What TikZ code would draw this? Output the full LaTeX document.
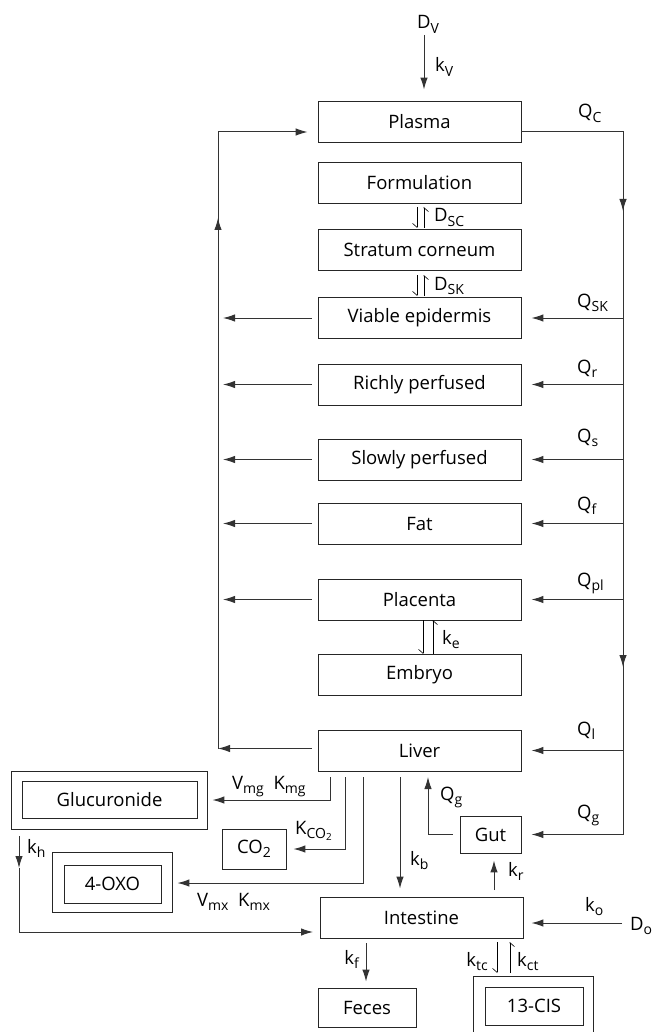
\documentclass[tikz,border=0pt]{standalone}
\usepackage{fontspec}
\setmainfont{Open Sans}
\usetikzlibrary{arrows.meta,calc}
% subscript set a little larger and lower than \textsubscript
\newcommand\lowsub[1]{\raisebox{-4.5pt}{\fontsize{14}{14}\selectfont #1}}
\begin{document}
\begin{tikzpicture}[x=1pt,y=-1pt,
  font=\fontsize{18.5}{22}\selectfont,
  box/.style={draw=black!85,line width=0.8pt,minimum width=203pt,minimum height=41pt,inner sep=0pt},
  line/.style={draw=black!80,line width=1pt},
  flow/.style={line,-{Latex[length=12pt,width=7.5pt]}},
  harp/.style={draw=black,line width=0.6pt,-{Straight Barb[right,length=4pt,width=9pt]}},
  lab/.style={inner sep=0pt},
]
\useasboundingbox (0,0) rectangle (652,1032);

% compartments of the main column
\node[box] (plasma) at (419.5,121.5) {Plasma};
\node[box] (form)   at (419.5,183)   {Formulation};
\node[box] (sc)     at (419.5,250)   {Stratum corneum};
\node[box] (ve)     at (419.5,318)   {Viable epidermis};
\node[box] (rp)     at (419.5,384.5) {Richly perfused};
\node[box] (sp)     at (419.5,459.5) {Slowly perfused};
\node[box] (fat)    at (419.5,523.5) {Fat};
\node[box] (plac)   at (419.5,599.5) {Placenta};
\node[box] (emb)    at (419.5,675)   {Embryo};
\node[box] (liver)  at (419.5,750.5) {Liver};
\node[box] (int)    at (421.5,917.5) {Intestine};
\node[box,minimum width=61pt,minimum height=37pt] (gut)   at (490.5,834.5) {Gut};
\node[box,minimum width=98pt,minimum height=39pt] (feces) at (367,1007.5) {Feces};
\node[box,minimum width=64pt,minimum height=40pt] (co2)   at (254,849)    {CO\lowsub{2}};

% metabolite compartments (double frames)
\node[box,minimum width=196pt,minimum height=58pt] (glucO) at (109,800) {};
\node[box,minimum width=175pt,minimum height=37pt] (gluc)  at (109.5,799.5) {Glucuronide};
\node[box,minimum width=120pt,minimum height=60pt] (oxoO)  at (112,882) {};
\node[box,minimum width=97pt,minimum height=38pt]  (oxo)   at (112.5,884) {4-OXO};
\node[box,minimum width=120pt,minimum height=62pt] (cisO)  at (533,1007) {};
\node[box,minimum width=98pt,minimum height=38pt]  (cis)   at (534,1006) {13-CIS};

% trunks: arterial (right) and venous (left)
\coordinate (rtop) at (623,132);
\coordinate (rbot) at (623,834.5);
\coordinate (ltop) at (218,132);
\coordinate (lbot) at (218,748.5);

\draw[line] ($(plasma.east)+(0,10.5)$) -- (rtop) -- (rbot);
\draw[flow,shorten >=10pt] (rbot) -- (gut.east);
\draw[flow] (623,190) -- (623,211);
\draw[flow] (623,645) -- (623,667);

\foreach \n in {ve,rp,sp,fat,plac,liver}
  \draw[flow,shorten >=10pt] (\n.east -| rtop) -- (\n.east);
\foreach \n in {ve,rp,sp,fat,plac}
  \draw[flow,shorten <=6pt,shorten >=5pt] (\n.west) -- (\n.west -| ltop);
\draw[flow,shorten <=6pt] ($(liver.west)+(0,-2)$) -- (lbot);
\draw[line] (lbot) -- (ltop);
\draw[flow] (218,245) -- (218,218);
\draw[flow,shorten >=10pt] (ltop) -- ($(plasma.west)+(0,10.5)$);

% flow labels
\node[lab,anchor=base west] at (578,118) {Q\lowsub{C}};
\node[lab,anchor=base west] at (577,307) {Q\lowsub{SK}};
\node[lab,anchor=base west] at (577,373) {Q\lowsub{r}};
\node[lab,anchor=base west] at (577,442) {Q\lowsub{s}};
\node[lab,anchor=base west] at (577,510) {Q\lowsub{f}};
\node[lab,anchor=base west] at (577,586) {Q\lowsub{pl}};
\node[lab,anchor=base west] at (577,735) {Q\lowsub{l}};
\node[lab,anchor=base west] at (577,818) {Q\lowsub{g}};

% intravenous dose
\node[lab,anchor=base west] (dv) at (417,29) {D\lowsub{V}};
\draw[flow,shorten >=11pt] (424,35) -- (plasma.north -| 424,0);
\node[lab,anchor=base west] at (435,72) {k\lowsub{V}};

% dermal exchanges
\draw[harp] (417,207) -- (417,228);
\draw[harp] (424,228) -- (424,207);
\node[lab,anchor=base west] at (434,222) {D\lowsub{SC}};
\draw[harp] (417,275) -- (417,296);
\draw[harp] (424,296) -- (424,275);
\node[lab,anchor=base west] at (434,290) {D\lowsub{SK}};

% placenta / embryo
\draw[harp] (423,620) -- (423,654);
\draw[harp] (433,654) -- (433,620);
\node[lab,anchor=base west] at (442,644) {k\lowsub{e}};

% liver outflows
\coordinate (g1) at (330,777);
\coordinate (c1) at (345,777);
\coordinate (o1) at (363,777);
\draw[flow,shorten >=5pt] (g1) |- (glucO.east);
\draw[flow,shorten >=7pt] (c1) |- (co2.east);
\draw[flow,shorten >=5pt] (o1) -- (363,883) -- (oxoO.east |- 0,883);
\node[lab,anchor=base west] at (232,789) {V\lowsub{mg}\ \ K\lowsub{mg}};
\node[lab,anchor=base west] at (295,834) {K\lowsub{CO\textsubscript{2}}};
\node[lab,anchor=base west] at (197,906) {V\lowsub{mx}\ \ K\lowsub{mx}};

\draw[flow,shorten >=8pt] (400,777) -- (int.north -| 400,0);
\node[lab,anchor=base west] at (410,865) {k\lowsub{b}};

% gut
\draw[flow] ($(gut.west)+(-7,0)$) -| (428,777);
\node[lab,anchor=base west] at (440,800) {Q\lowsub{g}};
\draw[flow,shorten >=7pt] (494,890) -- (gut.south -| 494,0);
\node[lab,anchor=base west] at (508,876) {k\lowsub{r}};

% oral dose
\node[lab,anchor=base west] (do) at (630,930) {D\lowsub{o}};
\draw[flow,shorten >=8pt] (622,923) -- (int.east |- 0,923);
\node[lab,anchor=base west] at (585,911) {k\lowsub{o}};

% glucuronide hydrolysis back to intestine
\coordinate (kh) at (19,868);
\draw[flow] (19,836) -- (kh);
\draw[flow] (kh) -- (19,932) -- (313,932);
\node[lab,anchor=base west] at (27,853) {k\lowsub{h}};

% faecal elimination
\draw[flow,shorten >=6pt] (366,943) -- (feces.north -| 366,0);
\node[lab,anchor=base east] at (359,964) {k\lowsub{f}};

% isomerisation exchange
\draw[harp] (497,942) -- (497,973);
\draw[harp] (510,973) -- (510,942);
\node[lab,anchor=base east] at (488,966) {k\lowsub{tc}};
\node[lab,anchor=base west] at (517,966) {k\lowsub{ct}};
\end{tikzpicture}
\end{document}
